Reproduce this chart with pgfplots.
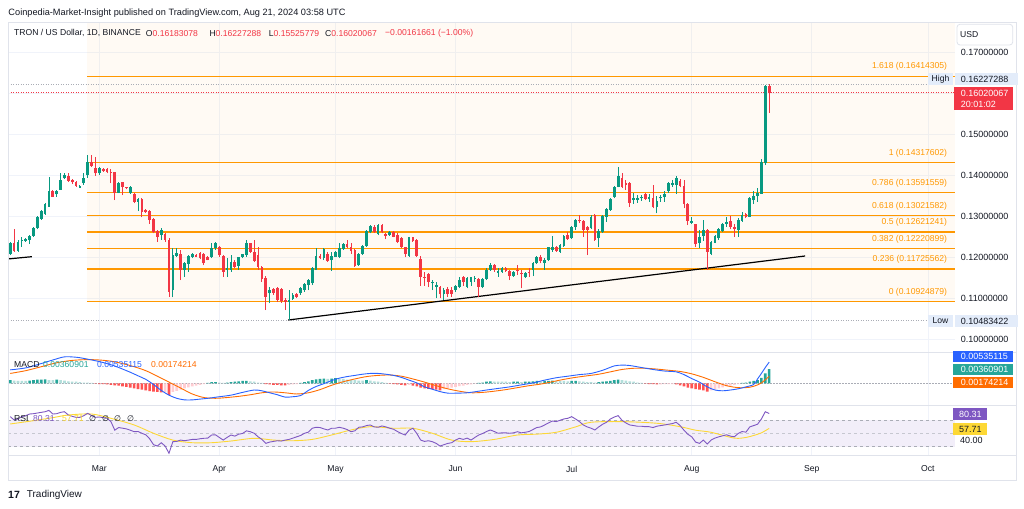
\documentclass[border=0pt]{standalone}
\usepackage{fontspec}
\setmainfont{Liberation Sans}
\newfontfamily\symfont{DejaVu Sans}
\usepackage{pgfplots}
\pgfplotsset{compat=1.18}
\usepackage{pgfplotstable}

\definecolor{tvtext}{RGB}{19,23,34}
\definecolor{tvgrid}{RGB}{240,243,250}
\definecolor{tvborder}{RGB}{224,227,235}
\definecolor{up}{RGB}{8,153,129}
\definecolor{down}{RGB}{242,54,69}
\definecolor{fib}{RGB}{255,152,0}
\definecolor{hup}{RGB}{38,166,154}
\definecolor{hupl}{RGB}{178,223,219}
\definecolor{hdnl}{RGB}{255,205,210}
\definecolor{hdn}{RGB}{255,82,82}
\definecolor{macdblue}{RGB}{41,98,255}
\definecolor{sigorange}{RGB}{255,109,0}
\definecolor{rsipurple}{RGB}{126,87,194}
\definecolor{rsiyellow}{RGB}{253,216,53}
\definecolor{rsiband}{RGB}{242,238,249}
\definecolor{lblblue}{RGB}{227,236,250}
\definecolor{dotgray}{RGB}{170,173,182}

\newcommand\tvf{\fontsize{8.6}{10}\selectfont}
\newcommand\pricefont{\fontsize{9}{10}\selectfont}

% daily candles, day 0 = 1 Mar 2024
\pgfplotstableread[row sep=\\]{
d o h l c\\
-23 0.1210 0.1239 0.1206 0.1235\\ -22 0.1236 0.1269 0.1214 0.1216\\ -21 0.1217 0.1243 0.1214 0.1239\\
-20 0.1240 0.1249 0.1227 0.1243\\ -19 0.1240 0.1247 0.1239 0.1245\\ -18 0.1243 0.1255 0.1233 0.1253\\
-17 0.1253 0.1275 0.1251 0.1273\\ -16 0.1271 0.1301 0.1269 0.1300\\ -15 0.1294 0.1316 0.1292 0.1313\\
-14 0.1306 0.1332 0.1304 0.1330\\ -13 0.1324 0.1397 0.1324 0.1363\\ -12 0.1363 0.1365 0.1347 0.1348\\
-11 0.1354 0.1365 0.1348 0.1361\\ -10 0.1365 0.1405 0.1365 0.1389\\ -9 0.1393 0.1405 0.1391 0.1401\\
-8 0.1399 0.1405 0.1385 0.1387\\ -7 0.1389 0.1391 0.1379 0.1383\\ -6 0.1385 0.1387 0.1373 0.1375\\
-5 0.1370 0.1377 0.1369 0.1375\\ -4 0.1381 0.1407 0.1377 0.1395\\ -3 0.1400 0.1450 0.1395 0.1432\\
-2 0.1432 0.1451 0.1421 0.1423\\ -1 0.1417 0.1446 0.1399 0.1405\\ 0 0.1405 0.1420 0.1401 0.1417\\
1 0.1415 0.1417 0.1409 0.1412\\ 2 0.1415 0.1417 0.1405 0.1408\\ 3 0.1409 0.1415 0.1381 0.1405\\
4 0.1408 0.1409 0.1340 0.1358\\ 5 0.1358 0.1383 0.1357 0.1381\\ 6 0.1383 0.1385 0.1352 0.1373\\
7 0.1371 0.1373 0.1366 0.1369\\ 8 0.1357 0.1374 0.1355 0.1373\\ 9 0.1355 0.1357 0.1332 0.1336\\
10 0.1336 0.1344 0.1313 0.1342\\ 11 0.1343 0.1344 0.1298 0.1312\\ 12 0.1316 0.1318 0.1309 0.1312\\
13 0.1314 0.1316 0.1283 0.1292\\ 14 0.1294 0.1296 0.1259 0.1263\\ 15 0.1266 0.1267 0.1239 0.1251\\
16 0.1255 0.1271 0.1243 0.1267\\ 17 0.1257 0.1259 0.1239 0.1243\\ 18 0.1244 0.1247 0.1105 0.1117\\
19 0.1121 0.1223 0.1103 0.1206\\ 20 0.1205 0.1223 0.1202 0.1212\\ 21 0.1210 0.1218 0.1145 0.1171\\
22 0.1170 0.1190 0.1154 0.1186\\ 23 0.1184 0.1206 0.1166 0.1204\\ 24 0.1202 0.1212 0.1198 0.1209\\
25 0.1206 0.1209 0.1201 0.1202\\ 26 0.1212 0.1214 0.1196 0.1198\\ 27 0.1210 0.1212 0.1182 0.1186\\
28 0.1202 0.1204 0.1193 0.1194\\ 29 0.1201 0.1236 0.1198 0.1224\\ 30 0.1223 0.1239 0.1219 0.1235\\
31 0.1227 0.1228 0.1202 0.1206\\ 32 0.1204 0.1206 0.1154 0.1166\\ 33 0.1170 0.1198 0.1154 0.1174\\
34 0.1170 0.1206 0.1166 0.1190\\ 35 0.1190 0.1194 0.1174 0.1178\\ 36 0.1180 0.1202 0.1170 0.1201\\
37 0.1201 0.1210 0.1198 0.1208\\ 38 0.1206 0.1243 0.1202 0.1235\\ 39 0.1235 0.1236 0.1212 0.1214\\
40 0.1214 0.1243 0.1190 0.1192\\ 41 0.1206 0.1227 0.1170 0.1178\\ 42 0.1178 0.1180 0.1141 0.1147\\
43 0.1150 0.1155 0.1072 0.1105\\ 44 0.1113 0.1128 0.1089 0.1121\\ 45 0.1123 0.1125 0.1109 0.1115\\
46 0.1125 0.1128 0.1093 0.1097\\ 47 0.1123 0.1125 0.1090 0.1095\\ 48 0.1098 0.1101 0.1072 0.1093\\
49 0.1093 0.1121 0.1048 0.1098\\ 50 0.1099 0.1113 0.1097 0.1109\\ 51 0.1111 0.1113 0.1101 0.1105\\
52 0.1113 0.1128 0.1109 0.1125\\ 53 0.1121 0.1137 0.1117 0.1136\\ 54 0.1133 0.1147 0.1121 0.1145\\
55 0.1137 0.1178 0.1133 0.1174\\ 56 0.1171 0.1223 0.1170 0.1204\\ 57 0.1204 0.1210 0.1196 0.1198\\
58 0.1198 0.1223 0.1194 0.1220\\ 59 0.1210 0.1214 0.1190 0.1192\\ 60 0.1194 0.1214 0.1168 0.1204\\
61 0.1202 0.1217 0.1201 0.1214\\ 62 0.1202 0.1235 0.1198 0.1223\\ 63 0.1220 0.1236 0.1219 0.1233\\
64 0.1232 0.1243 0.1223 0.1227\\ 65 0.1227 0.1235 0.1210 0.1217\\ 66 0.1219 0.1220 0.1178 0.1180\\
67 0.1182 0.1212 0.1180 0.1210\\ 68 0.1209 0.1231 0.1206 0.1228\\ 69 0.1228 0.1267 0.1227 0.1266\\
70 0.1263 0.1279 0.1259 0.1277\\ 71 0.1275 0.1279 0.1261 0.1263\\ 72 0.1257 0.1282 0.1255 0.1279\\
73 0.1279 0.1282 0.1259 0.1263\\ 74 0.1257 0.1261 0.1245 0.1253\\ 75 0.1255 0.1266 0.1253 0.1263\\
76 0.1263 0.1266 0.1249 0.1251\\ 77 0.1255 0.1259 0.1235 0.1239\\ 78 0.1247 0.1249 0.1223 0.1227\\
79 0.1225 0.1227 0.1201 0.1210\\ 80 0.1204 0.1251 0.1202 0.1249\\ 81 0.1249 0.1251 0.1239 0.1241\\
82 0.1243 0.1245 0.1202 0.1204\\ 83 0.1196 0.1204 0.1131 0.1154\\ 84 0.1154 0.1166 0.1131 0.1150\\
85 0.1160 0.1162 0.1128 0.1141\\ 86 0.1137 0.1145 0.1121 0.1141\\ 87 0.1129 0.1141 0.1101 0.1133\\
88 0.1129 0.1131 0.1101 0.1111\\ 89 0.1111 0.1125 0.1097 0.1121\\ 90 0.1123 0.1129 0.1105 0.1111\\
91 0.1121 0.1129 0.1105 0.1111\\ 92 0.1121 0.1133 0.1117 0.1131\\ 93 0.1129 0.1154 0.1125 0.1145\\
94 0.1152 0.1155 0.1131 0.1141\\ 95 0.1129 0.1154 0.1125 0.1150\\ 96 0.1141 0.1154 0.1131 0.1152\\
97 0.1149 0.1156 0.1141 0.1151\\ 98 0.1147 0.1150 0.1105 0.1129\\ 99 0.1128 0.1150 0.1125 0.1147\\
100 0.1147 0.1174 0.1145 0.1171\\ 101 0.1170 0.1186 0.1168 0.1182\\ 102 0.1182 0.1184 0.1166 0.1170\\
103 0.1163 0.1174 0.1154 0.1168\\ 104 0.1166 0.1176 0.1163 0.1174\\ 105 0.1174 0.1178 0.1166 0.1168\\
106 0.1168 0.1171 0.1145 0.1155\\ 107 0.1155 0.1168 0.1154 0.1166\\ 108 0.1171 0.1182 0.1158 0.1168\\
109 0.1163 0.1170 0.1125 0.1160\\ 110 0.1152 0.1166 0.1150 0.1163\\ 111 0.1166 0.1174 0.1154 0.1162\\
112 0.1171 0.1190 0.1155 0.1186\\ 113 0.1186 0.1204 0.1184 0.1202\\ 114 0.1202 0.1206 0.1186 0.1192\\
115 0.1188 0.1198 0.1171 0.1194\\ 116 0.1194 0.1227 0.1192 0.1225\\ 117 0.1219 0.1253 0.1214 0.1227\\
118 0.1227 0.1228 0.1214 0.1217\\ 119 0.1214 0.1233 0.1212 0.1231\\ 120 0.1228 0.1255 0.1227 0.1253\\
121 0.1255 0.1263 0.1243 0.1245\\ 122 0.1247 0.1277 0.1245 0.1275\\ 123 0.1274 0.1293 0.1267 0.1292\\
124 0.1292 0.1304 0.1284 0.1288\\ 125 0.1290 0.1292 0.1251 0.1267\\ 126 0.1274 0.1277 0.1206 0.1267\\
127 0.1271 0.1304 0.1269 0.1300\\ 128 0.1304 0.1306 0.1241 0.1244\\ 129 0.1247 0.1269 0.1225 0.1266\\
130 0.1263 0.1304 0.1260 0.1301\\ 131 0.1300 0.1320 0.1287 0.1318\\ 132 0.1316 0.1344 0.1314 0.1342\\
133 0.1347 0.1374 0.1344 0.1373\\ 134 0.1373 0.1421 0.1371 0.1399\\ 135 0.1395 0.1405 0.1369 0.1373\\
136 0.1381 0.1389 0.1365 0.1378\\ 137 0.1381 0.1383 0.1324 0.1334\\ 138 0.1340 0.1357 0.1331 0.1344\\
139 0.1340 0.1352 0.1334 0.1344\\ 140 0.1344 0.1352 0.1339 0.1348\\ 141 0.1354 0.1357 0.1340 0.1343\\
142 0.1342 0.1355 0.1336 0.1348\\ 143 0.1344 0.1377 0.1320 0.1324\\ 144 0.1324 0.1350 0.1308 0.1338\\
145 0.1344 0.1352 0.1336 0.1348\\ 146 0.1347 0.1361 0.1336 0.1354\\ 147 0.1361 0.1385 0.1358 0.1381\\
148 0.1377 0.1389 0.1373 0.1381\\ 149 0.1377 0.1399 0.1356 0.1393\\ 150 0.1387 0.1391 0.1371 0.1374\\
151 0.1374 0.1389 0.1320 0.1330\\ 152 0.1330 0.1332 0.1279 0.1290\\ 153 0.1285 0.1300 0.1282 0.1289\\
154 0.1282 0.1283 0.1227 0.1233\\ 155 0.1235 0.1267 0.1223 0.1251\\ 156 0.1253 0.1292 0.1241 0.1267\\
157 0.1267 0.1269 0.1170 0.1214\\ 158 0.1209 0.1241 0.1206 0.1239\\ 159 0.1236 0.1255 0.1235 0.1253\\
160 0.1247 0.1271 0.1243 0.1269\\ 161 0.1266 0.1285 0.1263 0.1283\\ 162 0.1282 0.1300 0.1275 0.1286\\
163 0.1290 0.1301 0.1269 0.1274\\ 164 0.1275 0.1283 0.1251 0.1269\\ 165 0.1267 0.1296 0.1251 0.1291\\
166 0.1290 0.1312 0.1287 0.1304\\ 167 0.1306 0.1309 0.1296 0.1298\\ 168 0.1300 0.1348 0.1298 0.1344\\
169 0.1340 0.1362 0.1330 0.1350\\ 170 0.1350 0.1369 0.1336 0.1357\\ 171 0.1356 0.1439 0.1355 0.1434\\
172 0.1430 0.1620 0.1426 0.1618\\ 173 0.16183078 0.16227288 0.15525779 0.16020067\\
}\candles

% MACD histogram: k = 1 rising above 0, 2 falling above 0, 3 rising below 0, 4 falling below 0
\pgfplotstableread[row sep=\\]{
d v k\\
-23 0.0008 1\\ -22 0.0007 2\\ -21 0.0006 2\\ -20 0.0006 2\\ -19 0.0006 2\\ -18 0.0007 1\\ -17 0.0008 1\\
-16 0.0009 1\\ -15 0.0009 1\\ -14 0.0010 1\\ -13 0.0008 2\\ -12 0.0008 2\\ -11 0.0009 1\\ -10 0.0008 2\\
-9 0.0007 2\\ -8 0.0005 2\\ -7 0.0004 2\\ -6 0.0004 2\\ -5 0.0003 2\\ -4 0.0002 2\\ -3 0.0002 2\\
-2 0.0001 2\\ -1 -0.0001 4\\ 0 -0.0002 4\\ 1 -0.0002 4\\ 2 -0.0003 4\\ 3 -0.0004 4\\ 4 -0.0005 4\\
5 -0.0006 4\\ 6 -0.0008 4\\ 7 -0.0009 4\\ 8 -0.0011 4\\ 9 -0.0013 4\\ 10 -0.0015 4\\ 11 -0.0016 4\\
12 -0.0018 4\\ 13 -0.0020 4\\ 14 -0.0021 4\\ 15 -0.0022 4\\ 16 -0.0023 4\\ 17 -0.0023 3\\ 18 -0.0029 4\\
19 -0.0022 3\\ 20 -0.0019 3\\ 21 -0.0016 3\\ 22 -0.0013 3\\ 23 -0.0010 3\\ 24 -0.0008 3\\ 25 -0.0006 3\\
26 -0.0004 3\\ 27 -0.0002 3\\ 28 0.0001 1\\ 29 0.0003 1\\ 30 0.0003 1\\ 31 0.0002 2\\ 32 0.0001 2\\
33 0.0002 1\\ 34 0.0003 1\\ 35 0.0004 1\\ 36 0.0005 1\\ 37 0.0006 1\\ 38 0.0006 1\\ 39 0.0005 2\\
40 0.0004 2\\ 41 0.0002 2\\ 42 0.0001 2\\ 43 -0.0002 4\\ 44 -0.0003 4\\ 45 -0.0004 4\\ 46 -0.0004 4\\
47 -0.0005 4\\ 48 -0.0005 4\\ 49 -0.0004 3\\ 50 -0.0003 3\\ 51 -0.0002 3\\ 52 0.0001 1\\ 53 0.0003 1\\
54 0.0005 1\\ 55 0.0008 1\\ 56 0.0010 1\\ 57 0.0011 1\\ 58 0.0012 1\\ 59 0.0011 2\\ 60 0.0012 1\\
61 0.0013 1\\ 62 0.0012 2\\ 63 0.0011 2\\ 64 0.0009 2\\ 65 0.0008 2\\ 66 0.0008 2\\ 67 0.0007 2\\
68 0.0007 2\\ 69 0.0008 1\\ 70 0.0007 2\\ 71 0.0005 2\\ 72 0.0004 2\\ 73 0.0003 2\\ 74 0.0001 2\\
75 -0.0001 4\\ 76 -0.0002 4\\ 77 -0.0003 4\\ 78 -0.0004 4\\ 79 -0.0005 4\\ 80 -0.0004 3\\ 81 -0.0006 4\\
82 -0.0008 4\\ 83 -0.0011 4\\ 84 -0.0013 4\\ 85 -0.0014 4\\ 86 -0.0015 4\\ 87 -0.0016 4\\ 88 -0.0018 4\\
89 -0.0015 3\\ 90 -0.0013 3\\ 91 -0.0011 3\\ 92 -0.0009 3\\ 93 -0.0007 3\\ 94 -0.0006 3\\ 95 -0.0004 3\\
96 -0.0003 3\\ 97 -0.0001 3\\ 98 0.0001 1\\ 99 0.0002 1\\ 100 0.0004 1\\ 101 0.0005 1\\ 102 0.0004 2\\
103 0.0004 2\\ 104 0.0004 2\\ 105 0.0004 2\\ 106 0.0003 2\\ 107 0.0004 1\\ 108 0.0004 1\\ 109 0.0003 2\\
110 0.0004 1\\ 111 0.0004 1\\ 112 0.0005 1\\ 113 0.0006 1\\ 114 0.0005 2\\ 115 0.0006 1\\ 116 0.0006 1\\
117 0.0007 1\\ 118 0.0006 2\\ 119 0.0006 2\\ 120 0.0006 2\\ 121 0.0005 2\\ 122 0.0006 1\\ 123 0.0006 1\\
124 0.0005 2\\ 125 0.0004 2\\ 126 0.0003 2\\ 127 0.0003 2\\ 128 0.0002 2\\ 129 0.0003 1\\ 130 0.0004 1\\
131 0.0005 1\\ 132 0.0006 1\\ 133 0.0008 1\\ 134 0.0009 1\\ 135 0.0008 2\\ 136 0.0007 2\\ 137 0.0005 2\\
138 0.0004 2\\ 139 0.0002 2\\ 140 0.0001 2\\ 141 -0.0001 4\\ 142 -0.0002 4\\ 143 -0.0002 4\\ 144 -0.0003 4\\
145 -0.0003 3\\ 146 -0.0002 3\\ 147 -0.0002 3\\ 148 -0.0002 3\\ 149 -0.0003 4\\ 150 -0.0005 4\\ 151 -0.0008 4\\
152 -0.0011 4\\ 153 -0.0013 4\\ 154 -0.0015 4\\ 155 -0.0016 4\\ 156 -0.0018 4\\ 157 -0.0021 4\\ 158 -0.0018 3\\
159 -0.0016 3\\ 160 -0.0013 3\\ 161 -0.0010 3\\ 162 -0.0008 3\\ 163 -0.0006 3\\ 164 -0.0004 3\\ 165 -0.0002 3\\
166 0.0001 1\\ 167 0.0002 1\\ 168 0.0004 1\\ 169 0.0006 1\\ 170 0.0008 1\\ 171 0.0014 1\\ 172 0.0025 1\\
173 0.0036 1\\
}\hist

\pgfplotsset{
  tvpane/.style={
    scale only axis, width=947pt, anchor=south west,
    xmin=-23.58, xmax=221.0,
    axis line style={draw=none},
    major tick length=0pt,
    xtick={0,31,61,92,122,153,184,214},
    xticklabels={},
    xmajorgrids,
    grid style={draw=tvgrid, line width=0.7pt},
  },
  upc/.style={restrict expr to domain={\thisrow{c}-\thisrow{o}}{0:1}},
  dnc/.style={restrict expr to domain={\thisrow{c}-\thisrow{o}}{-1:-0.000001}},
  hcls/.style={restrict expr to domain={\thisrow{k}}{#1:#1}},
  candlebar/.style 2 args={draw=none, mark=none,
    /pgfplots/error bars/y dir=plus,
    /pgfplots/error bars/y explicit,
    /pgfplots/error bars/error mark=none,
    /pgfplots/error bars/error bar style={draw=#1, line width=#2}},
  fibline/.style={fib, line width=1.3pt},
}

\begin{document}
\begin{tikzpicture}
\useasboundingbox (0,0) rectangle (1024pt,508pt);
\fill[white] (0,0) rectangle (1024pt,508pt);

% ---------- price pane ----------
\begin{axis}[tvpane, at={(8pt,156pt)}, height=330pt,
  ymin=0.09702, ymax=0.17737,
  ytick={0.10,0.11,0.12,0.13,0.14,0.15,0.16,0.17},
  yticklabels={0.10000000,0.11000000,0.12000000,0.13000000,0.14000000,0.15000000,,0.17000000},
  yticklabel pos=right, ymajorgrids,
  yticklabel style={anchor=west, inner sep=0pt, xshift=5.7pt, font=\pricefont, text=tvtext},
]
% fib area
\addplot[draw=none, fill=fib, fill opacity=0.045] coordinates
  {(-3.2,0.10924879) (221,0.10924879) (221,0.17737) (-3.2,0.17737)};
\addplot[fibline] coordinates {(-3.2,0.16414305) (221,0.16414305)};
\addplot[fibline] coordinates {(-3.2,0.14317602) (221,0.14317602)};
\addplot[fibline] coordinates {(-3.2,0.13591559) (221,0.13591559)};
\addplot[fibline] coordinates {(-3.2,0.13021582) (221,0.13021582)};
\addplot[fibline] coordinates {(-3.2,0.12621241) (221,0.12621241)};
\addplot[fibline] coordinates {(-3.2,0.12220899) (221,0.12220899)};
\addplot[fibline] coordinates {(-3.2,0.11725562) (221,0.11725562)};
\addplot[fibline] coordinates {(-3.2,0.10924879) (221,0.10924879)};
% high / last / low
\addplot[dotgray, line width=0.7pt, dash pattern=on 1pt off 1.5pt] coordinates {(-23.58,0.16227288) (214,0.16227288)};
\addplot[down, line width=0.7pt, dash pattern=on 1pt off 1.5pt] coordinates {(-23.58,0.16020067) (221,0.16020067)};
\addplot[dotgray, line width=0.7pt, dash pattern=on 1pt off 1.5pt] coordinates {(-23.58,0.10483422) (214,0.10483422)};
% trend lines
\addplot[black, line width=1.2pt] coordinates {(48.8,0.10481) (182.3,0.1204)};
\addplot[black, line width=1.2pt] coordinates {(-23.58,0.11967) (-17.4,0.12023)};
% candles
\addplot[upc, candlebar={up}{0.9pt}] table[x=d, y=l, y error plus expr={\thisrow{h}-\thisrow{l}}] {\candles};
\addplot[dnc, candlebar={down}{0.9pt}] table[x=d, y=l, y error plus expr={\thisrow{h}-\thisrow{l}}] {\candles};
\addplot[upc, candlebar={up}{2.7pt}] table[x=d, y expr={min(\thisrow{o},\thisrow{c})},
  y error plus expr={max(abs(\thisrow{c}-\thisrow{o}),0.00006)}] {\candles};
\addplot[dnc, candlebar={down}{2.7pt}] table[x=d, y expr={min(\thisrow{o},\thisrow{c})},
  y error plus expr={max(abs(\thisrow{c}-\thisrow{o}),0.00006)}] {\candles};
\end{axis}

% ---------- MACD pane ----------
\begin{axis}[tvpane, at={(8pt,102.3pt)}, height=53.4pt,
  ymin=-0.00567, ymax=0.00785, ytick=\empty]
\addplot[dotgray, line width=0.7pt, dash pattern=on 1.5pt off 1.5pt] coordinates {(-23.58,0) (221,0)};
\addplot[ybar, bar width=2.6pt, bar shift=0pt, draw=none, fill=hup, hcls=1] table[x=d, y=v] {\hist};
\addplot[ybar, bar width=2.6pt, bar shift=0pt, draw=none, fill=hupl, hcls=2] table[x=d, y=v] {\hist};
\addplot[ybar, bar width=2.6pt, bar shift=0pt, draw=none, fill=hdnl, hcls=3] table[x=d, y=v] {\hist};
\addplot[ybar, bar width=2.6pt, bar shift=0pt, draw=none, fill=hdn, hcls=4] table[x=d, y=v] {\hist};
\addplot[sigorange, line width=0.9pt, smooth] coordinates {
(-23,0.0025) (-19,0.0032) (-15,0.0042) (-11,0.0052) (-7,0.0058) (-3,0.0060) (0,0.0059) (3,0.0056)
(6,0.0050) (9,0.0042) (12,0.0032) (15,0.0018) (18,0.0003) (21,-0.0012) (24,-0.0027) (27,-0.0036)
(30,-0.0038) (33,-0.0036) (36,-0.0033) (39,-0.0029) (42,-0.0024) (45,-0.0022) (48,-0.0024) (51,-0.0027)
(54,-0.0024) (57,-0.0016) (60,-0.0005) (63,0.0004) (66,0.0011) (69,0.0017) (72,0.0020) (75,0.0021)
(78,0.0018) (81,0.0011) (84,0.0003) (87,-0.0006) (90,-0.0014) (93,-0.0020) (96,-0.0024) (99,-0.0023)
(102,-0.0020) (105,-0.0016) (108,-0.0011) (111,-0.0006) (114,-0.0002) (117,0.0004) (120,0.0010)
(123,0.0015) (126,0.0019) (129,0.0023) (132,0.0029) (135,0.0035) (138,0.0038) (141,0.0038)
(144,0.0036) (147,0.0033) (150,0.0030) (153,0.0024) (156,0.0015) (159,0.0004) (162,-0.0006)
(165,-0.0011) (168,-0.0010) (170,-0.0004) (171,0.0001) (172,0.0009) (173,0.00174214)};
\addplot[macdblue, line width=0.9pt, smooth] coordinates {
(-23,0.0034) (-19,0.0039) (-15,0.0050) (-12,0.0059) (-9,0.0067) (-6,0.0066) (-4,0.0063) (0,0.0055)
(3,0.0047) (5,0.0040) (8,0.0028) (10,0.0019) (12,0.0010) (14,-0.0003) (16,-0.0018) (18,-0.0030)
(20,-0.0038) (22,-0.0042) (24,-0.0042) (26,-0.0040) (28,-0.0038) (31,-0.0034) (34,-0.0030)
(37,-0.0023) (40,-0.0017) (42,-0.0019) (44,-0.0024) (46,-0.0029) (48,-0.0035) (50,-0.0034)
(52,-0.0031) (54,-0.0018) (56,-0.0008) (58,-0.0001) (60,0.0007) (62,0.0013) (64,0.0017) (66,0.0020)
(68,0.0023) (70,0.0025) (72,0.0025) (74,0.0023) (76,0.0020) (78,0.0015) (80,0.0008) (82,0.0001)
(84,-0.0009) (86,-0.0015) (88,-0.0021) (90,-0.0025) (92,-0.0025) (95,-0.0024) (98,-0.0020)
(100,-0.0017) (103,-0.0013) (106,-0.0009) (109,-0.0004) (112,0.0001) (115,0.0008) (118,0.0014)
(121,0.0018) (124,0.0022) (127,0.0025) (130,0.0033) (133,0.0044) (135,0.0046) (137,0.0045)
(140,0.0040) (143,0.0035) (146,0.0031) (149,0.0029) (151,0.0022) (153,0.0012) (155,0.0003)
(157,-0.0009) (159,-0.0017) (161,-0.0019) (163,-0.0017) (165,-0.0014) (167,-0.0009) (169,-0.0003)
(170,0.0011) (171,0.0025) (172,0.0040) (173,0.00535115)};
\end{axis}

% ---------- RSI pane ----------
\begin{axis}[tvpane, at={(8pt,53pt)}, height=49.3pt,
  ymin=17.4, ymax=92.1,
  ytick={40}, yticklabels={40.00}, yticklabel pos=right,
  yticklabel style={anchor=west, inner sep=0pt, xshift=5pt, font=\pricefont, text=tvtext},
  xticklabels={Mar,Apr,May,Jun,Jul,Aug,Sep,Oct},
  xticklabel style={anchor=center, inner sep=0pt, yshift=-14pt, font=\tvf, text=tvtext},
]
\addplot[draw=none, fill=rsiband] coordinates {(-23.58,30) (221,30) (221,70) (-23.58,70)};
\addplot[dotgray, line width=0.6pt, dash pattern=on 3pt off 3pt] coordinates {(-23.58,70) (221,70)};
\addplot[dotgray, line width=0.6pt, dash pattern=on 3pt off 3pt, opacity=0.6] coordinates {(-23.58,50) (221,50)};
\addplot[dotgray, line width=0.6pt, dash pattern=on 3pt off 3pt] coordinates {(-23.58,30) (221,30)};
\addplot[rsiyellow, line width=0.9pt, smooth] coordinates {
(-23,64.4) (-17,69.4) (-12,74) (-8,78) (-2,79.5) (3,73) (9,62.9) (14,50.3) (19,40) (24,36) (29,36)
(34,38.6) (40,42.7) (45,40) (50,39) (55,41) (60,47.7) (65,55.3) (70,60.3) (76,57.9) (81,57.9)
(86,50.3) (91,40) (96,37.6) (102,41) (108,47.7) (113,49) (118,51.8) (123,60) (127,67) (135,68)
(144,65.5) (150,60.3) (154,55) (158,51.8) (164,43) (167,44) (169,47) (171,51) (173,57.71)};
\addplot[rsipurple, line width=0.9pt] coordinates {
(-23,75.5) (-22,70.5) (-21,72) (-20,75.5) (-19,77) (-18,79.5) (-17,80) (-16,81) (-15,82) (-14,83)
(-13,85) (-12,79.5) (-11,80) (-10,82) (-9,83) (-8,78) (-7,76) (-6,74.5) (-5,74.5) (-4,77) (-3,80.6)
(-2,77) (-1,74.5) (0,75) (1,74) (2,73) (3,68) (4,55) (5,59) (6,58) (7,57) (8,55) (9,52.7) (10,53)
(11,50.3) (12,48) (13,42) (14,33) (15,31) (16,36) (17,31) (18,20) (19,37.6) (20,38) (21,40) (22,39)
(23,40) (24,41) (25,41) (26,42) (27,42.7) (28,43) (29,47.7) (30,48) (31,44) (32,40) (33,44) (34,47.7)
(35,46) (36,49) (37,50) (38,54) (39,52.7) (40,50.3) (41,45) (42,41) (43,35) (44,37) (45,38) (46,39)
(47,38.5) (48,40) (49,41) (50,43) (51,45) (52,47) (53,50.3) (54,52) (55,57.9) (56,59.4) (57,59)
(58,57) (59,55.3) (60,57.9) (61,58) (62,59.4) (63,58) (64,56) (65,52.7) (66,54) (67,59.4) (68,60)
(69,62) (70,62.9) (71,60) (72,59.4) (73,61.4) (74,60) (75,58) (76,56.4) (77,53) (78,50) (79,47.7)
(80,55) (81,57.9) (82,50) (83,40) (84,38) (85,39) (86,37.6) (87,35) (88,31) (89,33) (90,35) (91,36)
(92,40) (93,42.7) (94,41) (95,43) (96,40) (97,44) (98,47.7) (99,50) (100,53) (101,55.3) (102,53)
(103,50.3) (104,51) (105,51) (106,50.3) (107,51) (108,52.7) (109,51) (110,51.8) (111,53) (112,56)
(113,59) (114,60) (115,62.9) (116,66) (117,68.9) (118,68) (119,70) (120,72) (121,73) (122,75.5)
(123,72) (124,68) (125,62.9) (126,60) (127,58) (128,55.3) (129,60) (130,64) (131,67) (132,72)
(133,75) (134,77) (135,70) (136,66) (137,62.9) (138,62) (139,61) (140,61) (141,60.3) (142,60.3)
(143,59) (144,61) (145,62) (146,62.9) (147,64) (148,65) (149,67) (150,62) (151,55) (152,48.8)
(153,45) (154,37) (155,35) (156,40) (157,34) (158,40) (159,43) (160,45) (161,46.5) (162,48) (163,46)
(164,45) (165,50) (166,53) (167,52) (168,60) (169,62) (170,64) (171,72) (172,83) (173,80.31)};
\end{axis}

% ---------- frame, labels, price scale ----------
\begin{scope}[shift={(0pt,508pt)}, x=1pt, y=-1pt]
\draw[tvborder, line width=0.8pt] (8,22) rectangle (1016.5,480);
\draw[tvborder, line width=0.8pt] (8,352.3) -- (1016.5,352.3);
\draw[tvborder, line width=0.8pt] (8,405.7) -- (1016.5,405.7);
\draw[tvborder, line width=0.6pt] (8,455) -- (1016.5,455);

\node[anchor=west, inner sep=0pt, font=\fontsize{9.2}{11}\selectfont, text=tvtext] at (8.3,12.7)
  {Coinpedia-Market-Insight published on TradingView.com, Aug 21, 2024 03:58 UTC};
\node[anchor=west, inner sep=0pt, font=\tvf, text=tvtext] at (14,33.3) {TRON / US Dollar, 1D, BINANCE};
\node[anchor=west, inner sep=0pt, font=\tvf, text=tvtext] at (145.7,33.3) {O\textcolor{down}{0.16183078}};
\node[anchor=west, inner sep=0pt, font=\tvf, text=tvtext] at (209.3,33.3) {H\textcolor{down}{0.16227288}};
\node[anchor=west, inner sep=0pt, font=\tvf, text=tvtext] at (268.7,33.3) {L\textcolor{down}{0.15525779}};
\node[anchor=west, inner sep=0pt, font=\tvf, text=tvtext] at (325,33.3) {C\textcolor{down}{0.16020067}};
\node[anchor=west, inner sep=0pt, font=\tvf, text=down] at (385,33.3) {−0.00161661 (−1.00\%)};

% fib labels
\foreach \yy/\tt in {66.7/1.618 (0.16414305), 153.3/1 (0.14317602), 183.3/0.786 (0.13591559),
  206/0.618 (0.13021582), 222.7/0.5 (0.12621241), 239.3/0.382 (0.12220899),
  259.3/0.236 (0.11725562), 292.3/0 (0.10924879)}
  \node[anchor=east, inner sep=0pt, font=\tvf, text=fib] at (947.3,\yy) {\tt};

% USD
\draw[tvborder, line width=0.8pt, rounded corners=3pt] (957,24.3) rectangle (1012.7,45);
\node[anchor=west, inner sep=0pt, font=\tvf, text=tvtext] at (960,35) {USD};

% high / last / low labels
\fill[lblblue] (928,73.3) rectangle (953,85.3);
\node[inner sep=0pt, font=\tvf, text=tvtext] at (940.5,79.3) {High};
\fill[lblblue] (955,73.3) rectangle (1018,85.3);
\node[anchor=west, inner sep=0pt, font=\pricefont, text=tvtext] at (960.7,79.3) {0.16227288};
\fill[down] (954,86.7) rectangle (1013,110);
\node[anchor=west, inner sep=0pt, font=\pricefont, text=white] at (960.7,93.3) {0.16020067};
\node[anchor=west, inner sep=0pt, font=\pricefont, text=white] at (960.7,104) {20:01:02};
\fill[lblblue] (928,315) rectangle (953,327);
\node[inner sep=0pt, font=\tvf, text=tvtext] at (940.5,321) {Low};
\fill[lblblue] (955,315) rectangle (1018,327);
\node[anchor=west, inner sep=0pt, font=\pricefont, text=tvtext] at (960.7,321) {0.10483422};

% MACD legend and labels
\node[anchor=west, inner sep=0pt, font=\tvf, text=tvtext] at (14,364.3) {MACD};
\node[anchor=west, inner sep=0pt, font=\tvf, text=hup] at (43,364.3) {0.00360901};
\node[anchor=west, inner sep=0pt, font=\tvf, text=macdblue] at (97,364.3) {0.00535115};
\node[anchor=west, inner sep=0pt, font=\tvf, text=sigorange] at (151,364.3) {0.00174214};
\fill[macdblue] (953,351) rectangle (1013,362);
\node[anchor=west, inner sep=0pt, font=\pricefont, text=white] at (960.7,356.5) {0.00535115};
\fill[hup] (953,364) rectangle (1013,375.5);
\node[anchor=west, inner sep=0pt, font=\pricefont, text=white] at (960.7,369.7) {0.00360901};
\fill[sigorange] (953,377) rectangle (1013,388.5);
\node[anchor=west, inner sep=0pt, font=\pricefont, text=white] at (960.7,382.8) {0.00174214};

% RSI legend and labels
\node[anchor=west, inner sep=0pt, font=\tvf, text=tvtext] at (14,418.3) {RSI};
\node[anchor=west, inner sep=0pt, font=\tvf, text=rsipurple] at (33,418.3) {80.31};
\node[anchor=west, inner sep=0pt, font=\tvf, text=rsiyellow] at (62,418.3) {57.71};
\foreach \xx in {89,102,114,127}
  \node[anchor=west, inner sep=0pt, font=\symfont\fontsize{8}{9}\selectfont, text=tvtext] at (\xx,418.3) {∅};
\fill[rsipurple] (953,408.3) rectangle (987.3,420);
\node[anchor=west, inner sep=0pt, font=\pricefont, text=white] at (959,414.2) {80.31};
\fill[rsiyellow] (953,423.3) rectangle (987.3,435);
\node[anchor=west, inner sep=0pt, font=\pricefont, text=tvtext] at (959,429.2) {57.71};

% logo
\node[anchor=west, inner sep=0pt, font=\bfseries\fontsize{10.5}{11}\selectfont, text=tvtext] at (8,495) {17};
\node[anchor=west, inner sep=0pt, font=\fontsize{10}{11}\selectfont, text=tvtext] at (26.7,495) {TradingView};
\end{scope}
\end{tikzpicture}
\end{document}
